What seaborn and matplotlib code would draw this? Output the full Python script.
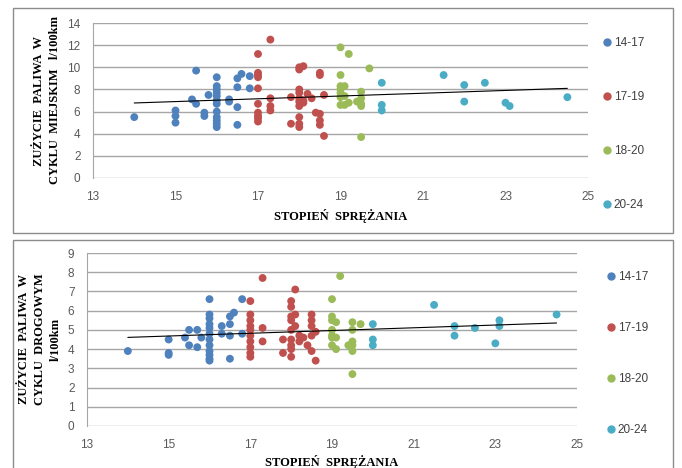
import numpy as np
import pandas as pd
import matplotlib
matplotlib.use("Agg")
import matplotlib.pyplot as plt
from matplotlib.patches import Rectangle
from matplotlib.lines import Line2D
import seaborn as sns

# ---------------- data ----------------
groups = ["14-17", "17-19", "18-20", "20-24"]
colors = ["#4F81BD", "#C0504D", "#9BBB59", "#4BACC6"]

# city cycle (top panel)
city_x_1417 = [14, 15, 15, 15, 15.4, 15.5, 15.5, 15.7, 15.7, 15.8, 16, 16, 16, 16, 16, 16, 16, 16, 16, 16, 16, 16,
               16.3, 16.3, 16.5, 16.5, 16.5, 16.5, 16.6, 16.8, 16.8]
city_y_1417 = [5.5, 6.1, 5.6, 5.0, 7.1, 6.7, 9.7, 5.9, 5.6, 7.5, 9.1, 8.3, 8.0, 7.7, 7.4, 7.0, 6.7, 6.0, 5.5, 5.2, 4.9, 4.6,
               7.1, 6.9, 9.0, 8.2, 6.4, 4.8, 9.4, 9.2, 8.1]
city_x_1719 = [17, 17, 17, 17, 17, 17, 17, 17, 17, 17, 17.3, 17.3, 17.3, 17.3, 17.8, 17.8,
               18, 18, 18, 18, 18, 18, 18, 18, 18, 18, 18.1, 18.1, 18.1, 18.2, 18.3, 18.4,
               18.5, 18.5, 18.5, 18.5, 18.5, 18.6, 18.6]
city_y_1719 = [11.2, 9.5, 9.3, 9.1, 8.1, 6.7, 5.9, 5.6, 5.4, 5.1, 12.5, 7.2, 6.5, 6.1, 7.3, 4.9,
               10.0, 9.8, 8.0, 7.7, 7.2, 6.9, 6.5, 5.5, 4.9, 4.6, 10.1, 7.0, 6.8, 7.6, 7.2, 5.9,
               9.5, 9.3, 5.8, 5.2, 4.8, 7.5, 3.8]
city_x_1820 = [19, 19.2, 19, 19, 19, 19.1, 19, 19, 19, 19.1, 19.1, 19.4, 19.5, 19.5, 19.5, 19.5, 19.5, 19.7, 19.2]
city_y_1820 = [11.8, 11.2, 9.3, 8.3, 8.0, 8.3, 7.7, 7.3, 6.6, 6.6, 7.4, 6.9, 7.8, 7.2, 6.7, 6.5, 3.7, 9.9, 6.8]
city_x_2024 = [20, 20, 20, 21.5, 22, 22, 22.5, 23, 23.1, 24.5]
city_y_2024 = [8.6, 6.6, 6.1, 9.3, 8.4, 6.9, 8.6, 6.8, 6.5, 7.3]

# road cycle (bottom panel)
road_x_1417 = [14, 15, 15, 15, 15.4, 15.5, 15.5, 15.7, 15.7, 15.8, 16, 16, 16, 16, 16, 16, 16, 16, 16, 16, 16, 16,
               16.3, 16.3, 16.5, 16.5, 16.5, 16.5, 16.6, 16.8, 16.8]
road_y_1417 = [3.9, 4.5, 3.8, 3.7, 4.6, 5.0, 4.2, 5.0, 4.1, 4.6, 6.6, 5.8, 5.6, 5.3, 5.1, 4.8, 4.5, 4.2, 3.9, 3.7, 3.5, 3.4,
               5.2, 4.8, 5.7, 5.3, 4.7, 3.5, 5.9, 6.6, 4.8]
road_x_1719 = [17, 17, 17, 17, 17, 17, 17, 17, 17, 17, 17.3, 17.3, 17.3, 17.8, 17.8,
               18, 18, 18, 18, 18, 18, 18, 18, 18, 18.1, 18.1, 18.1, 18.2, 18.2, 18.3, 18.4,
               18.5, 18.5, 18.5, 18.5, 18.5, 18.6, 18.6]
road_y_1719 = [6.5, 5.8, 5.5, 5.2, 5.0, 4.7, 4.4, 4.1, 3.8, 3.6, 7.7, 5.1, 4.4, 4.5, 3.8,
               6.5, 6.2, 5.7, 5.5, 5.0, 4.5, 4.2, 4.0, 3.6, 7.1, 5.8, 5.2, 4.7, 4.4, 4.6, 4.2,
               5.8, 5.5, 5.2, 4.7, 3.9, 3.4, 4.9]
road_x_1820 = [19, 19, 19, 19, 19, 19, 19, 19.1, 19.1, 19.2, 19.5, 19.5, 19.5, 19.5, 19.4, 19.5, 19.5, 19.7, 19.1]
road_y_1820 = [6.6, 5.7, 5.5, 5.0, 4.7, 4.6, 4.2, 5.4, 4.0, 7.8, 5.4, 5.0, 4.4, 4.2, 4.2, 3.9, 2.7, 5.3, 4.6]
road_x_2024 = [20, 20, 20, 21.5, 22, 22, 22.5, 23, 23.1, 23.1, 24.5]
road_y_2024 = [5.3, 4.5, 4.2, 6.3, 5.2, 4.7, 5.1, 4.3, 5.5, 5.2, 5.8]

x_ticks = [13, 15, 17, 19, 21, 23, 25]
city_y_ticks = [0, 2, 4, 6, 8, 10, 12, 14]
road_y_ticks = [0, 1, 2, 3, 4, 5, 6, 7, 8, 9]

xlabel = "STOPIEŃ  SPRĘŻANIA"
city_ylabel = "ZUŻYCIE  PALIWA  W\nCYKLU  MIEJSKIM   l/100km"
road_ylabel = "ZUŻYCIE  PALIWA  W\nCYKLU  DROGOWYM\nl/100km"


def make_df(xs, ys):
    rows = []
    for g, x, y in zip(groups, xs, ys):
        for a, b in zip(x, y):
            rows.append((g, a, b))
    return pd.DataFrame(rows, columns=["grupa", "x", "y"])


city = make_df([city_x_1417, city_x_1719, city_x_1820, city_x_2024],
               [city_y_1417, city_y_1719, city_y_1820, city_y_2024])
road = make_df([road_x_1417, road_x_1719, road_x_1820, road_x_2024],
               [road_y_1417, road_y_1719, road_y_1820, road_y_2024])

# ---------------- figure ----------------
sns.set_style("white")
plt.rcParams["font.family"] = ["DejaVu Sans"]
W, H = 682, 468
fig = plt.figure(figsize=(W / 100, H / 100), dpi=100)


def px_axes(l, t, r, b):
    return fig.add_axes([l / W, 1 - b / H, (r - l) / W, (b - t) / H])


# panel frames
for (l, t, r, b) in [(13, 8, 673, 233), (13, 240, 673, 475)]:
    fig.add_artist(Rectangle((l / W, 1 - b / H), (r - l) / W, (b - t) / H,
                             transform=fig.transFigure, fill=False,
                             edgecolor="#8C8C8C", linewidth=1.0))

tick_kw = dict(family="Liberation Sans", size=8.5, color="#595959")
label_kw = dict(family="Liberation Serif", weight="bold", size=9, color="black")


def draw_panel(ax, df, yticks, ylabel, ylab_x, xlab_y, leg_anchor, lab_spacing):
    palette = dict(zip(groups, colors))
    sns.scatterplot(data=df, x="x", y="y", hue="grupa", palette=palette, s=32,
                    linewidth=0, legend=False, ax=ax, zorder=3)
    sns.regplot(data=df, x="x", y="y", scatter=False, ci=None, ax=ax,
                color="black", line_kws=dict(linewidth=0.8, zorder=4))
    ax.set_xlim(13, 25)
    ax.set_ylim(yticks[0], yticks[-1])
    ax.set_xticks(x_ticks)
    ax.set_yticks(yticks)
    ax.set_xticklabels([str(v) for v in x_ticks], **tick_kw)
    ax.set_yticklabels([str(v) for v in yticks], **tick_kw)
    ax.tick_params(length=0, pad=9)
    ax.yaxis.grid(True, color="#A6A6A6", linewidth=1.0)
    ax.xaxis.grid(False)
    ax.set_axisbelow(True)
    for s in ["top", "right", "bottom"]:
        ax.spines[s].set_visible(False)
    ax.spines["left"].set_color("#A6A6A6")
    ax.set_xlabel("")
    ax.set_ylabel("")
    pos = ax.get_position()
    fig.text(ylab_x / W, pos.y0 + pos.height / 2, ylabel, rotation=90,
             ha="center", va="center", multialignment="center",
             linespacing=1.45, **label_kw)
    fig.text((pos.x0 + pos.width / 2) + 0.0, 1 - xlab_y / H, xlabel,
             ha="center", va="center", **label_kw)
    handles = [Line2D([], [], marker="o", linestyle="", color=c, markersize=5)
               for c in colors]
    fig.legend(handles, groups, loc="upper left",
               bbox_to_anchor=(leg_anchor[0] / W, 1 - leg_anchor[1] / H),
               frameon=False, labelspacing=lab_spacing, handlelength=0.6,
               handletextpad=0.3, borderpad=0, borderaxespad=0,
               prop=dict(family="Liberation Sans", size=8.5), labelcolor="#404040")


ax1 = px_axes(93, 23, 588, 178)
draw_panel(ax1, city, city_y_ticks, city_ylabel, 47, 216, (603, 37), 3.55)

ax2 = px_axes(87, 253, 577, 426)
draw_panel(ax2, road, road_y_ticks, road_ylabel, 40, 462, (607, 271), 3.3)

fig.savefig("out.png", dpi=100)
